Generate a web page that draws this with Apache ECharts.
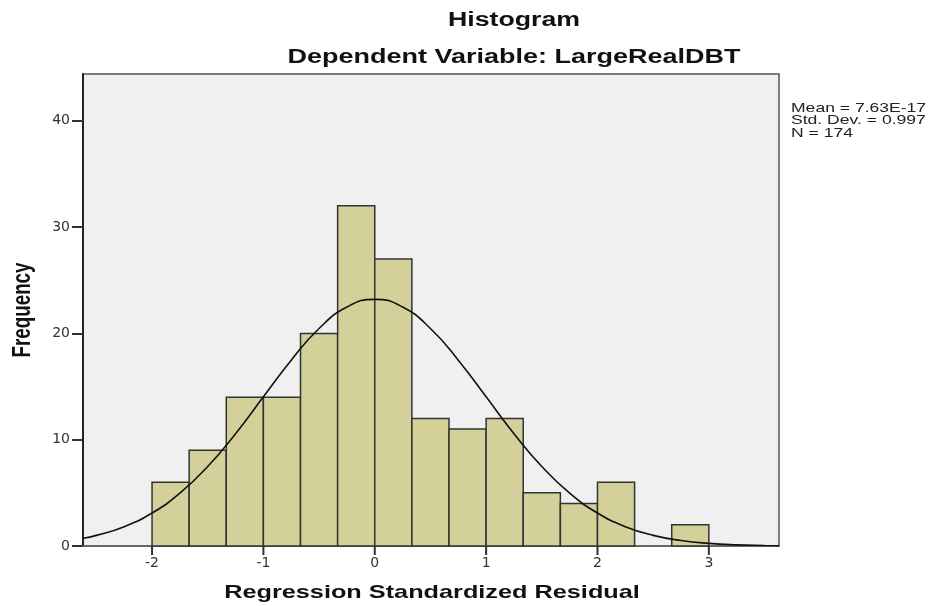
<!DOCTYPE html>
<html>
<head>
<meta charset="utf-8">
<script src="https://cdn.jsdelivr.net/npm/echarts@6/dist/echarts.min.js"></script>
<style>
  html, body { margin: 0; padding: 0; background: #fff; }
  #chart { width: 931px; height: 606px; }
</style>
</head>
<body>
<div id="chart"></div>
<script>
// bin edges (lower and upper) and bar heights
var binEdges = [-2, -1.6667, -1.3333, -1, -0.6667, -0.3333, 0, 0.3333, 0.6667, 1, 1.3333, 1.6667, 2, 2.3333, 2.6667, 3]
var counts = [6, 9, 14, 14, 20, 32, 27, 12, 11, 12, 5, 4, 6, 0, 2]

// normal curve, points
var curveX = [-2.62, -2.5, -2.25, -2, -1.75, -1.5, -1.25, -1, -0.75, -0.5, -0.25, 0, 0.25, 0.5, 0.75, 1, 1.25, 1.5, 1.75, 2, 2.25, 2.5, 2.75, 3, 3.25, 3.5, 3.63]
var curveY = [0.73, 1.0, 1.82, 3.1, 4.97, 7.48, 10.57, 14.03, 17.48, 20.46, 22.48, 23.2, 22.48, 20.46, 17.48, 14.03, 10.57, 7.48, 4.97, 3.1, 1.82, 1.0, 0.52, 0.25, 0.11, 0.05, 0.03]

var xTicks = [-2, -1, 0, 1, 2, 3]
var yTicks = [0, 10, 20, 30, 40]
var statLines = ['Mean = 7.63E-17', 'Std. Dev. = 0.997', 'N = 174']

var bars = []
for (var i = 0; i < counts.length; i++) {
  bars.push([binEdges[i], binEdges[i + 1], counts[i]])
}
var curve = []
for (var j = 0; j < curveX.length; j++) {
  curve.push([curveX[j], curveY[j]])
}

var chart = echarts.init(document.getElementById('chart'))

var graphics = [
  {
    type: 'text', x: 514, y: 21, scaleX: 1.37,
    style: { text: 'Histogram', font: 'bold 19.5px "Liberation Sans", Arial', fill: '#111', align: 'center', verticalAlign: 'middle' }
  },
  {
    type: 'text', x: 514, y: 57, scaleX: 1.35,
    style: { text: 'Dependent Variable: LargeRealDBT', font: 'bold 20px "Liberation Sans", Arial', fill: '#111', align: 'center', verticalAlign: 'middle' }
  },
  {
    type: 'text', x: 432, y: 593, scaleX: 1.33,
    style: { text: 'Regression Standardized Residual', font: 'bold 19px "Liberation Sans", Arial', fill: '#111', align: 'center', verticalAlign: 'middle' }
  },
  {
    type: 'text', x: 23, y: 310, rotation: Math.PI / 2, scaleY: 1.36,
    style: { text: 'Frequency', font: 'bold 18.8px "Liberation Sans", Arial', fill: '#111', align: 'center', verticalAlign: 'middle' }
  }
]
for (var k = 0; k < statLines.length; k++) {
  graphics.push({
    type: 'text', x: 791, y: 108 + k * 12.5, scaleX: 1.35,
    style: { text: statLines[k], font: '13px "Liberation Sans", Arial', fill: '#222', align: 'left', verticalAlign: 'middle' }
  })
}

var option = {
  animation: false,
  grid: {
    left: 83,
    right: 152,
    top: 74,
    bottom: 60,
    show: true,
    backgroundColor: '#f0f0f0',
    borderColor: '#555',
    borderWidth: 1.5
  },
  xAxis: {
    type: 'value',
    min: -2.62,
    max: 3.63,
    axisLine: { show: true, onZero: false, lineStyle: { color: '#666', width: 2 } },
    axisTick: { show: false },
    axisLabel: { customValues: xTicks, margin: 10, color: '#333', fontSize: 14, fontFamily: 'DejaVu Sans' },
    splitLine: { show: false }
  },
  yAxis: {
    type: 'value',
    min: 0,
    max: 44.4,
    axisLine: { show: true, onZero: false, lineStyle: { color: '#222', width: 2 } },
    axisTick: { show: true, length: 11, customValues: yTicks, lineStyle: { color: '#333', width: 2 } },
    axisLabel: { customValues: yTicks, margin: 13, color: '#333', fontSize: 14, fontFamily: 'DejaVu Sans' },
    splitLine: { show: false }
  },
  graphic: graphics,
  series: [
    {
      type: 'custom',
      data: bars,
      encode: { x: [0, 1], y: 2 },
      renderItem: function (params, api) {
        var h = api.value(2)
        if (!h) return null
        var p0 = api.coord([api.value(0), h])
        var p1 = api.coord([api.value(1), 0])
        return {
          type: 'rect',
          shape: { x: p0[0], y: p0[1], width: p1[0] - p0[0], height: p1[1] - p0[1] },
          style: { fill: '#d4d09a', stroke: '#333', lineWidth: 1.5 }
        }
      },
      z: 2
    },
    {
      type: 'line',
      data: curve,
      smooth: 0.5,
      showSymbol: false,
      lineStyle: { color: '#111', width: 1.6 },
      z: 3
    },
    {
      // x axis tick marks, placed through the axis scale
      type: 'custom',
      data: xTicks.map(function (v) { return [v, 0] }),
      encode: { x: 0, y: 1 },
      clip: false,
      silent: true,
      zlevel: 1,
      renderItem: function (params, api) {
        var p = api.coord([api.value(0), 0])
        return {
          type: 'rect',
          shape: { x: p[0] - 1, y: p[1], width: 2, height: 9 },
          style: { fill: '#333' }
        }
      }
    }
  ]
}

chart.setOption(option)
</script>
</body>
</html>
